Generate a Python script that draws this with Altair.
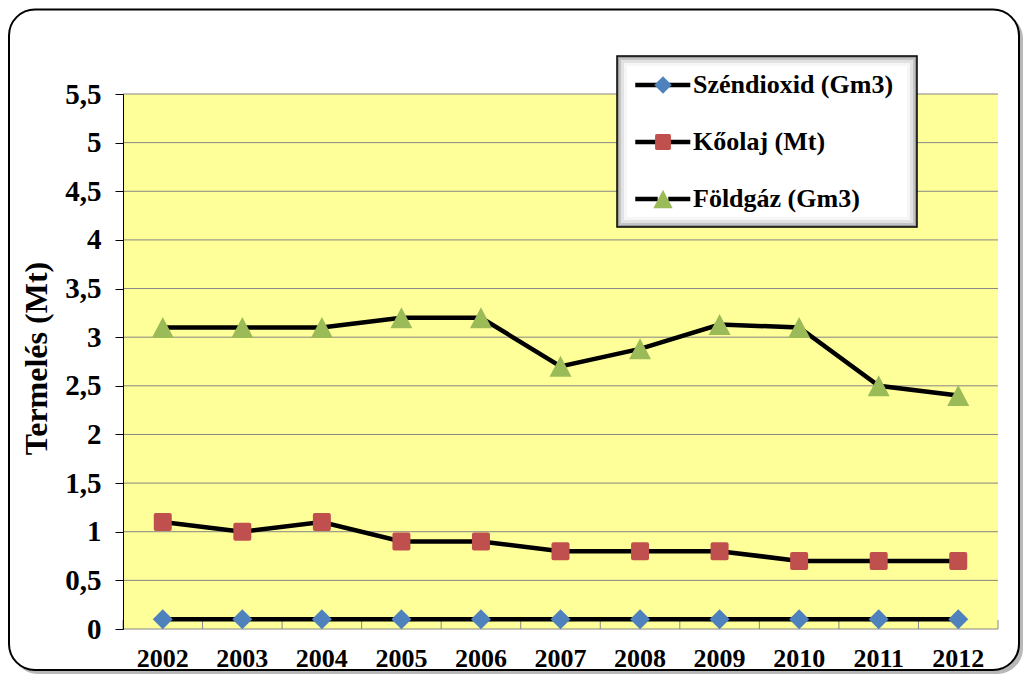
import altair as alt
import pandas as pd

# ---- data ----
years = [2002, 2003, 2004, 2005, 2006, 2007, 2008, 2009, 2010, 2011, 2012]
series_names = ["Széndioxid (Gm3)", "Kőolaj (Mt)", "Földgáz (Gm3)"]
szendioxid = [0.1, 0.1, 0.1, 0.1, 0.1, 0.1, 0.1, 0.1, 0.1, 0.1, 0.1]
koolaj = [1.1, 1.0, 1.1, 0.9, 0.9, 0.8, 0.8, 0.8, 0.7, 0.7, 0.7]
foldgaz = [3.1, 3.1, 3.1, 3.2, 3.2, 2.7, 2.88, 3.13, 3.1, 2.5, 2.4]
y_ticks = [0, 0.5, 1, 1.5, 2, 2.5, 3, 3.5, 4, 4.5, 5, 5.5]
colors = ["#4F81BD", "#C0504D", "#9BBB59"]

rows = []
for name, vals in zip(series_names, [szendioxid, koolaj, foldgaz]):
    for yr, v in zip(years, vals):
        rows.append({"year": yr, "series": name, "key": name, "value": v})
df = pd.DataFrame(rows)
ticks_df = pd.DataFrame({"v": y_ticks})
years_df = pd.DataFrame({"year": years})
one = pd.DataFrame({"a": [0]})

W, H = 875, 535
FONT = "Liberation Serif"

xscale = alt.Scale(type="band", paddingInner=0, paddingOuter=0)
xaxis = alt.Axis(title=None, labelAngle=0, labelFont=FONT, labelFontWeight="bold",
                 labelFontSize=26, labelColor="black", labelPadding=16, ticks=False,
                 domain=False, grid=False, zindex=1)
yscale = alt.Scale(domain=[0, 5.5], nice=False, zero=True)
yaxis = alt.Axis(title="Termelés (Mt)", values=y_ticks, grid=False, zindex=1,
                 labelExpr="replace(format(datum.value, '~g'), '.', ',')",
                 labelFont=FONT, labelFontWeight="bold", labelFontSize=29,
                 labelColor="black", labelPadding=14, tickSize=8, tickColor="black",
                 domainColor="black", titleFont=FONT, titleFontWeight="bold",
                 titleFontSize=32, titleColor="black", titleX=-70, titleY=264)


def box(x1, y1, x2, y2, **kw):
    return alt.Chart(one).mark_rect(**kw).encode(
        x=alt.value(x1), x2=alt.value(x2), y=alt.value(y1), y2=alt.value(y2))


# outer rounded frame with shadow
frame_shadow = box(-111, -81, 900, 580, fill="#b8b8b8", cornerRadius=26)
frame = box(-114, -84.5, 896, 576, fill="white", stroke="black", strokeWidth=2,
            cornerRadius=26)
plot_bg = box(0, 0, W, H, fill="#FFFF99")

grid = alt.Chart(ticks_df).mark_rule(color="#868686", strokeWidth=1).encode(
    y=alt.Y("v:Q", scale=yscale, axis=yaxis), x=alt.value(0), x2=alt.value(W))

xticks = alt.Chart(years_df).mark_rule(color="#868686", strokeWidth=1).encode(
    x=alt.X("year:O", scale=xscale, axis=xaxis, bandPosition=0),
    y=alt.value(H), y2=alt.value(H - 9))
xtick_end = alt.Chart(years_df).transform_filter("datum.year == 2012").mark_rule(
    color="#868686", strokeWidth=1).encode(
    x=alt.X("year:O", scale=xscale, axis=xaxis, bandPosition=1),
    y=alt.value(H), y2=alt.value(H - 9))

# legend box (drawn as decoration, legends are placed on top of it)
lx1, ly1, lx2, ly2 = 494, -38, 794, 133
legend_box = alt.layer(
    box(lx1, ly1, lx2, ly2, fill="#9a9a9a"),
    box(lx1 + 2, ly1 + 2, lx2 - 2, ly2 - 2, fill="#c4c4c4"),
    box(lx1 + 4, ly1 + 4, lx2 - 4, ly2 - 4, fill="#e2e2e2"),
    box(lx1 + 7, ly1 + 7, lx2 - 7, ly2 - 7, fill="#f6f6f6"),
    box(lx1 + 10, ly1 + 10, lx2 - 10, ly2 - 10, fill="white"),
    box(lx1, ly1, lx2, ly2, fill="transparent", stroke="black", strokeWidth=1.5),
)

LX, LY = 527, -22
line_legend = alt.Legend(orient="none", legendX=LX, legendY=LY, title=None,
                         symbolType="M-3.15,0H-0.6M0.6,0H3.1", symbolSize=310,
                         symbolStrokeWidth=4.5, labelOpacity=0, labelFont=FONT,
                         labelFontWeight="bold", labelFontSize=26, labelOffset=17,
                         labelLimit=500, rowPadding=31, padding=0)
point_legend = alt.Legend(orient="none", legendX=LX, legendY=LY, title=None,
                          symbolSize=310, symbolStrokeWidth=0, symbolOpacity=1,
                          labelFont=FONT, labelFontWeight="bold", labelFontSize=26,
                          labelColor="black", labelOffset=17, labelLimit=500,
                          rowPadding=31, padding=0)

lines = alt.Chart(df).mark_line(strokeWidth=4.5).encode(
    x=alt.X("year:O", scale=xscale, axis=xaxis),
    y=alt.Y("value:Q", scale=yscale, axis=yaxis),
    stroke=alt.Stroke("key:N", sort=series_names,
                      scale=alt.Scale(range=["black", "black", "black"]),
                      legend=line_legend),
)

diamond = "M0,-1L1,0L0,1L-1,0Z"
square = ("M-0.7,-0.9H0.7Q0.9,-0.9 0.9,-0.7V0.7Q0.9,0.9 0.7,0.9H-0.7"
          "Q-0.9,0.9 -0.9,0.7V-0.7Q-0.9,-0.9 -0.7,-0.9Z")
triangle = "M0,-1.05L1.1,1.05L-1.1,1.05Z"

points = alt.Chart(df).mark_point(filled=True, size=400, opacity=1, strokeWidth=0).encode(
    x=alt.X("year:O", scale=xscale, axis=xaxis),
    y=alt.Y("value:Q", scale=yscale, axis=yaxis),
    color=alt.Color("series:N", scale=alt.Scale(domain=series_names, range=colors),
                    legend=point_legend),
    shape=alt.Shape("series:N", scale=alt.Scale(domain=series_names,
                                                range=[diamond, square, triangle]),
                    legend=point_legend),
)

chart = alt.layer(frame_shadow, frame, plot_bg, grid, xticks, xtick_end, legend_box,
                  lines, points).properties(
    width=W, height=H,
    autosize=alt.AutoSizeParams(type="none"),
    padding={"left": 115, "top": 86, "right": 26, "bottom": 45},
).configure_view(stroke=None, fill=None).configure(background="white")

chart.save("out.html", embed_options={"renderer": "svg", "actions": False})
